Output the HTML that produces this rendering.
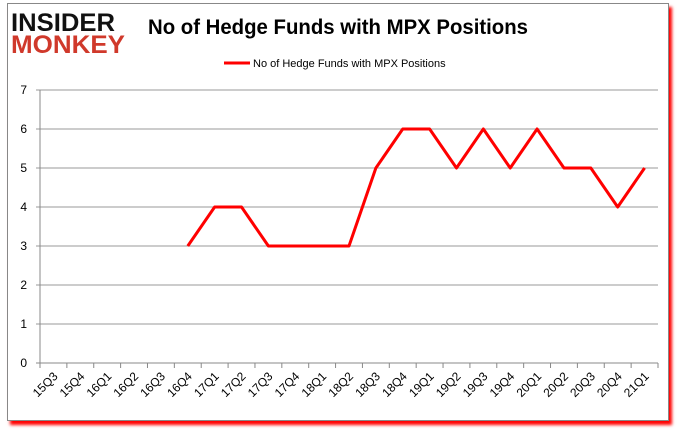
<!DOCTYPE html>
<html><head><meta charset="utf-8"><style>
body{margin:0;background:#fff;width:680px;height:433px;overflow:hidden;font-family:"Liberation Sans",sans-serif}
#frame{position:absolute;left:7px;top:3px;width:660px;height:416px;border:1px solid #888;background:#fff;box-shadow:3px 4px 3px #f00}
</style></head><body>
<div id="frame"></div>
<svg id="chart" width="680" height="433" style="position:absolute;left:0;top:0">
<g>
<text x="11" y="31" font-family="Liberation Sans" font-weight="bold" font-size="25" fill="#111" textLength="104" lengthAdjust="spacingAndGlyphs">INSIDER</text>
<text x="11" y="53" font-family="Liberation Sans" font-weight="bold" font-size="25" fill="#d0392b" textLength="114" lengthAdjust="spacingAndGlyphs">MONKEY</text>
</g>
<text x="338" y="34" text-anchor="middle" font-size="21" font-weight="bold" fill="#000" textLength="380" lengthAdjust="spacingAndGlyphs">No of Hedge Funds with MPX Positions</text>
<g>
<line x1="224" y1="63" x2="250" y2="63" stroke="#f00" stroke-width="3"/>
<text x="253" y="67" font-size="11" fill="#000">No of Hedge Funds with MPX Positions</text>
</g>
<g id="grid"></g><g id="axes"></g><g id="series"></g>
</svg>
<script>
const categories=["15Q3","15Q4","16Q1","16Q2","16Q3","16Q4","17Q1","17Q2","17Q3","17Q4","18Q1","18Q2","18Q3","18Q4","19Q1","19Q2","19Q3","19Q4","20Q1","20Q2","20Q3","20Q4","21Q1"];
const values=[null,null,null,null,null,3,4,4,3,3,3,3,5,6,6,5,6,5,6,5,5,4,5];
const yTicks=[0,1,2,3,4,5,6,7];
const NS="http://www.w3.org/2000/svg";
const L=40,R=658,T=90,B=363,yMax=7;
const cw=(R-L)/categories.length;
const x=i=>L+(i+0.5)*cw, y=v=>B-(v/yMax)*(B-T);
function mk(t,a,p){const e=document.createElementNS(NS,t);for(const k in a)e.setAttribute(k,a[k]);p.appendChild(e);return e;}
const g=document.getElementById('grid'),ax=document.getElementById('axes'),s=document.getElementById('series');
yTicks.forEach(v=>{
 const l=mk('line',{x1:L-4,x2:R,y1:y(v),y2:y(v),stroke:v===0?'#888':'#999','stroke-width':1},g);
 
 
 const t=mk('text',{x:L-13,y:y(v)+4,'text-anchor':'end','font-size':12,fill:'#000'},ax);t.textContent=v;
 
 
});
const ya=mk('line',{x1:L,x2:L,y1:T,y2:B+5,stroke:'#888'},ax);


categories.forEach((c,i)=>{
 const tx=L+i*cw;
 mk('line',{x1:tx,x2:tx,y1:B,y2:B+5,stroke:'#888'},ax);
 const t=mk('text',{x:x(i)+5,y:B+14,'text-anchor':'end','font-size':12,fill:'#000',transform:`rotate(-45 ${x(i)+5} ${B+14})`},ax);t.textContent=c;
 
 
});
mk('line',{x1:R,x2:R,y1:B,y2:B+5,stroke:'#888'},ax);
let pts=[];values.forEach((v,i)=>{if(v!==null)pts.push(x(i)+','+y(v));});
const pl=mk('polyline',{points:pts.join(' '),fill:'none',stroke:'#f00','stroke-width':3,'stroke-linejoin':'round'},s);


</script>
</body></html>
